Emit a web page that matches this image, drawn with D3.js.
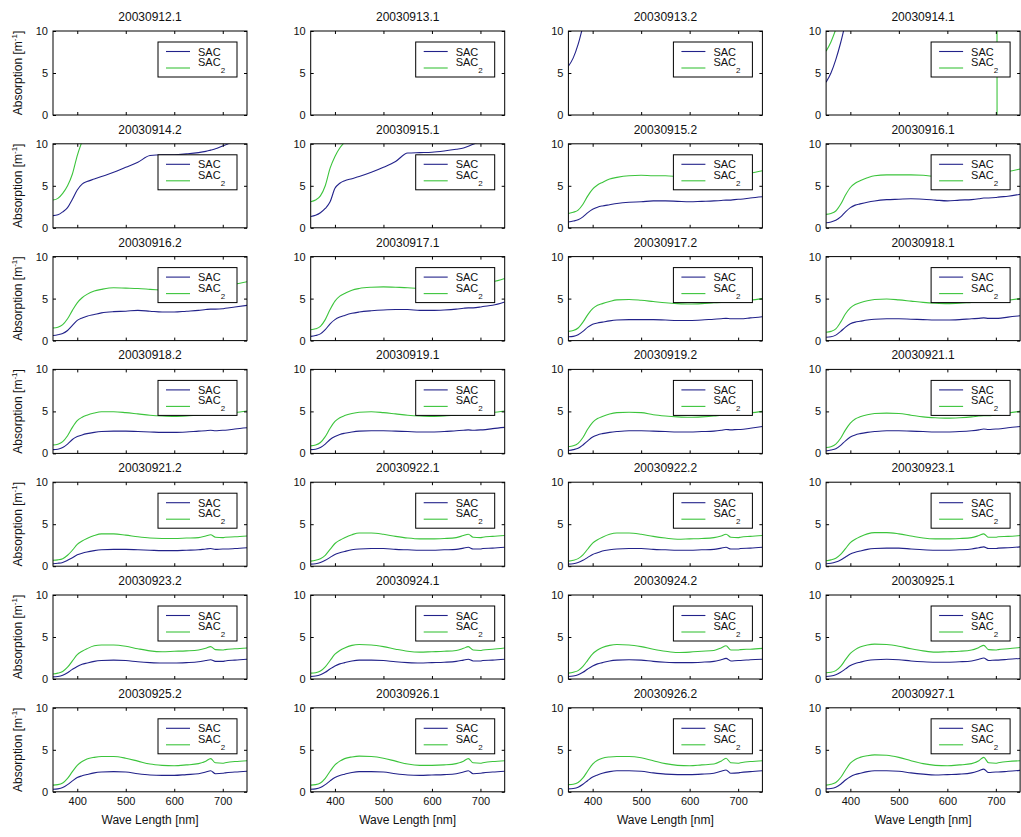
<!DOCTYPE html>
<html>
<head>
<meta charset="utf-8">
<title>SAC / SAC2</title>
<script src="https://cdn.jsdelivr.net/npm/d3@7"></script>
<style>
  body { margin: 0; background: #fff; }
  svg { display: block; font-family: "Liberation Sans", Arial, sans-serif; }
</style>
</head>
<body>
<svg id="chart" width="1021" height="837"></svg>
<script>
// panel titles, in reading order (4 per row)
var titles = [
  "20030912.1", "20030913.1", "20030913.2", "20030914.1",
  "20030914.2", "20030915.1", "20030915.2", "20030916.1",
  "20030916.2", "20030917.1", "20030917.2", "20030918.1",
  "20030918.2", "20030919.1", "20030919.2", "20030921.1",
  "20030921.2", "20030922.1", "20030922.2", "20030923.1",
  "20030923.2", "20030924.1", "20030924.2", "20030925.1",
  "20030925.2", "20030926.1", "20030926.2", "20030927.1"
];

// wavelengths (nm) where the curves were read
var wavelengths = [350, 360, 370, 380, 390, 400, 410, 420, 435, 450, 475, 500, 525,
                   550, 575, 600, 625, 650, 665, 675, 685, 700, 705, 725, 750];

var xTicks = [400, 500, 600, 700];
var yTicks = [0, 5, 10];

// SAC, one row per panel (null / missing = off the chart)
var sacSeries = [
  [],  // 20030912.1
  [],  // 20030913.1
  [5.8, 6.8, 8.4, 10.6],  // 20030913.2
  [3.9, 5.0, 6.6, 8.6, 11.0],  // 20030914.1
  [1.45, 1.55, 1.9, 2.4, 3.4, 4.5, 5.2, 5.5, 5.8, 6.1, 6.6, 7.2, 7.8, 8.6, 8.7, 8.7, 8.8, 8.95, 9.1, 9.25, 9.4, 9.75, 9.85, 10.4],  // 20030914.2
  [1.35, 1.5, 1.8, 2.3, 3.1, 4.7, 5.3, 5.6, 5.85, 6.1, 6.6, 7.2, 7.9, 8.9, 8.95, 9.0, 9.15, 9.35, 9.5, 9.7, 9.95, 10.3],  // 20030915.1
  [0.7, 0.8, 0.95, 1.3, 1.8, 2.2, 2.45, 2.6, 2.75, 2.9, 3.05, 3.1, 3.2, 3.2, 3.15, 3.1, 3.15, 3.2, 3.25, 3.3, 3.3, 3.4, 3.4, 3.55, 3.7],  // 20030915.2
  [0.6, 0.7, 0.9, 1.3, 1.9, 2.4, 2.7, 2.85, 3.05, 3.2, 3.35, 3.4, 3.45, 3.4, 3.3, 3.2, 3.3, 3.35, 3.45, 3.55, 3.55, 3.6, 3.65, 3.75, 4.0],  // 20030916.1
  [0.6, 0.7, 0.85, 1.2, 1.8, 2.4, 2.7, 2.9, 3.1, 3.3, 3.45, 3.5, 3.6, 3.5, 3.4, 3.4, 3.5, 3.6, 3.7, 3.75, 3.75, 3.8, 3.85, 4.0, 4.2],  // 20030916.2
  [0.5, 0.6, 0.8, 1.3, 2.0, 2.5, 2.8, 3.0, 3.25, 3.4, 3.55, 3.65, 3.7, 3.7, 3.6, 3.6, 3.65, 3.75, 3.85, 3.9, 3.9, 4.0, 4.05, 4.2, 4.6],  // 20030917.1
  [0.45, 0.5, 0.7, 1.1, 1.6, 1.95, 2.1, 2.2, 2.35, 2.45, 2.5, 2.5, 2.5, 2.45, 2.4, 2.4, 2.45, 2.55, 2.6, 2.65, 2.6, 2.6, 2.6, 2.7, 2.85],  // 20030917.2
  [0.4, 0.45, 0.65, 1.1, 1.6, 2.0, 2.2, 2.3, 2.45, 2.55, 2.6, 2.6, 2.55, 2.5, 2.45, 2.45, 2.5, 2.6, 2.65, 2.7, 2.65, 2.65, 2.65, 2.8, 2.95],  // 20030918.1
  [0.45, 0.5, 0.7, 1.1, 1.65, 2.0, 2.2, 2.35, 2.5, 2.6, 2.65, 2.65, 2.6, 2.55, 2.5, 2.5, 2.55, 2.65, 2.7, 2.75, 2.7, 2.75, 2.75, 2.9, 3.05],  // 20030918.2
  [0.45, 0.5, 0.7, 1.1, 1.65, 2.0, 2.25, 2.4, 2.55, 2.65, 2.7, 2.7, 2.65, 2.6, 2.55, 2.55, 2.6, 2.7, 2.75, 2.8, 2.75, 2.8, 2.8, 2.95, 3.1],  // 20030919.1
  [0.35, 0.45, 0.6, 1.0, 1.5, 1.95, 2.2, 2.35, 2.5, 2.6, 2.7, 2.7, 2.65, 2.6, 2.55, 2.55, 2.6, 2.65, 2.75, 2.85, 2.8, 2.85, 2.85, 3.0, 3.2],  // 20030919.2
  [0.3, 0.4, 0.55, 0.95, 1.5, 1.95, 2.2, 2.35, 2.5, 2.6, 2.7, 2.7, 2.65, 2.6, 2.55, 2.55, 2.6, 2.7, 2.8, 2.9, 2.85, 2.9, 2.9, 3.05, 3.2],  // 20030921.1
  [0.3, 0.35, 0.45, 0.7, 1.0, 1.35, 1.55, 1.7, 1.85, 1.95, 2.0, 2.0, 1.95, 1.9, 1.85, 1.85, 1.9, 1.95, 2.05, 2.1, 2.0, 2.05, 2.05, 2.1, 2.2],  // 20030921.2
  [0.25, 0.3, 0.45, 0.7, 1.05, 1.4, 1.6, 1.75, 1.95, 2.05, 2.1, 2.1, 2.0, 1.95, 1.9, 1.9, 1.95, 2.0, 2.15, 2.25, 2.05, 2.05, 2.1, 2.15, 2.25],  // 20030922.1
  [0.25, 0.3, 0.45, 0.7, 1.05, 1.4, 1.6, 1.8, 1.95, 2.05, 2.1, 2.1, 2.0, 1.95, 1.9, 1.9, 1.95, 2.0, 2.15, 2.25, 2.05, 2.05, 2.1, 2.15, 2.25],  // 20030922.2
  [0.3, 0.35, 0.5, 0.75, 1.1, 1.45, 1.65, 1.8, 2.0, 2.1, 2.15, 2.15, 2.05, 1.95, 1.9, 1.9, 1.95, 2.05, 2.2, 2.3, 2.1, 2.1, 2.15, 2.2, 2.3],  // 20030923.1
  [0.25, 0.3, 0.45, 0.75, 1.15, 1.5, 1.75, 1.9, 2.1, 2.2, 2.25, 2.2, 2.05, 1.95, 1.9, 1.9, 1.95, 2.05, 2.2, 2.3, 2.1, 2.1, 2.15, 2.25, 2.35],  // 20030923.2
  [0.3, 0.35, 0.5, 0.8, 1.2, 1.55, 1.8, 1.95, 2.15, 2.25, 2.25, 2.2, 2.05, 1.95, 1.9, 1.95, 2.0, 2.1, 2.25, 2.35, 2.15, 2.15, 2.2, 2.25, 2.35],  // 20030924.1
  [0.3, 0.35, 0.5, 0.8, 1.2, 1.55, 1.8, 1.95, 2.15, 2.25, 2.3, 2.25, 2.1, 2.0, 1.95, 1.95, 2.0, 2.1, 2.3, 2.45, 2.15, 2.2, 2.2, 2.3, 2.35],  // 20030924.2
  [0.3, 0.35, 0.5, 0.8, 1.2, 1.6, 1.85, 2.0, 2.2, 2.3, 2.35, 2.3, 2.15, 2.05, 2.0, 2.0, 2.05, 2.15, 2.35, 2.5, 2.2, 2.25, 2.25, 2.35, 2.45],  // 20030925.1
  [0.3, 0.35, 0.5, 0.85, 1.3, 1.7, 1.9, 2.05, 2.25, 2.35, 2.4, 2.35, 2.15, 2.0, 1.95, 1.95, 2.05, 2.15, 2.35, 2.5, 2.15, 2.2, 2.25, 2.35, 2.45],  // 20030925.2
  [0.3, 0.35, 0.5, 0.85, 1.3, 1.7, 1.95, 2.1, 2.3, 2.4, 2.4, 2.35, 2.15, 2.0, 1.95, 2.0, 2.05, 2.15, 2.35, 2.5, 2.15, 2.2, 2.25, 2.35, 2.45],  // 20030926.1
  [0.35, 0.4, 0.55, 0.9, 1.35, 1.75, 2.0, 2.2, 2.4, 2.5, 2.5, 2.45, 2.25, 2.1, 2.05, 2.05, 2.1, 2.2, 2.45, 2.6, 2.2, 2.25, 2.3, 2.4, 2.5],  // 20030926.2
  [0.35, 0.4, 0.55, 0.9, 1.4, 1.8, 2.05, 2.2, 2.4, 2.5, 2.5, 2.45, 2.25, 2.1, 2.0, 2.05, 2.1, 2.25, 2.5, 2.7, 2.3, 2.35, 2.35, 2.45, 2.55]   // 20030927.1
];

// SAC2, same layout
var sac2Series = [
  [],  // 20030912.1
  [],  // 20030913.1
  [],  // 20030913.2
  [7.6, 8.7, 10.2, null, null, null, null, null, null, null, null, null, null,
   null, null, null, null, null, null, null, null, 200, -200],  // 20030914.1
  [3.3, 3.5, 4.1, 5.0, 6.4, 8.6, 10.3],  // 20030914.2
  [3.1, 3.3, 3.8, 5.0, 7.1, 8.5, 9.5, 10.2],  // 20030915.1
  [1.7, 1.85, 2.1, 2.8, 3.8, 4.6, 5.1, 5.4, 5.8, 6.0, 6.2, 6.25, 6.2, 6.2, 6.1, 6.0, 5.9, 5.9, 5.9, 5.95, 6.0, 6.2, 6.2, 6.5, 6.8],  // 20030915.2
  [1.6, 1.7, 2.0, 2.8, 3.9, 4.8, 5.3, 5.6, 5.95, 6.2, 6.3, 6.3, 6.3, 6.25, 6.1, 6.0, 6.0, 6.1, 6.2, 6.3, 6.4, 6.5, 6.5, 6.7, 7.0],  // 20030916.1
  [1.5, 1.6, 1.9, 2.6, 3.6, 4.5, 5.1, 5.5, 5.9, 6.1, 6.3, 6.25, 6.2, 6.1, 6.0, 5.9, 6.0, 6.1, 6.2, 6.3, 6.4, 6.5, 6.55, 6.7, 7.0],  // 20030916.2
  [1.3, 1.4, 1.7, 2.5, 3.7, 4.7, 5.3, 5.6, 6.0, 6.2, 6.35, 6.4, 6.35, 6.3, 6.2, 6.1, 6.2, 6.3, 6.4, 6.5, 6.6, 6.8, 6.85, 7.0, 7.4],  // 20030917.1
  [1.1, 1.2, 1.5, 2.2, 3.1, 3.8, 4.2, 4.4, 4.65, 4.85, 4.9, 4.8, 4.65, 4.5, 4.4, 4.35, 4.4, 4.5, 4.55, 4.6, 4.55, 4.6, 4.6, 4.8, 5.0],  // 20030917.2
  [1.0, 1.1, 1.4, 2.2, 3.2, 3.9, 4.3, 4.5, 4.75, 4.9, 4.95, 4.85, 4.7, 4.55, 4.45, 4.4, 4.45, 4.55, 4.6, 4.65, 4.6, 4.65, 4.65, 4.8, 5.0],  // 20030918.1
  [1.0, 1.1, 1.4, 2.1, 3.1, 3.9, 4.3, 4.55, 4.8, 4.95, 4.95, 4.85, 4.7, 4.55, 4.45, 4.4, 4.45, 4.55, 4.6, 4.65, 4.6, 4.65, 4.65, 4.85, 5.05],  // 20030918.2
  [0.9, 1.0, 1.3, 2.0, 3.0, 3.8, 4.25, 4.5, 4.75, 4.9, 4.95, 4.85, 4.7, 4.55, 4.45, 4.4, 4.45, 4.55, 4.6, 4.65, 4.6, 4.65, 4.65, 4.85, 5.05],  // 20030919.1
  [0.8, 0.9, 1.2, 1.9, 2.9, 3.7, 4.15, 4.4, 4.7, 4.85, 4.9, 4.85, 4.6, 4.45, 4.35, 4.3, 4.35, 4.45, 4.55, 4.6, 4.55, 4.6, 4.6, 4.8, 5.0],  // 20030919.2
  [0.7, 0.8, 1.1, 1.8, 2.8, 3.6, 4.1, 4.35, 4.6, 4.75, 4.8, 4.75, 4.55, 4.35, 4.25, 4.2, 4.25, 4.35, 4.45, 4.5, 4.5, 4.55, 4.55, 4.8, 5.0],  // 20030921.1
  [0.7, 0.75, 0.9, 1.3, 1.9, 2.6, 3.0, 3.3, 3.65, 3.85, 3.85, 3.7, 3.5, 3.35, 3.3, 3.3, 3.35, 3.4, 3.6, 3.75, 3.45, 3.4, 3.45, 3.5, 3.6],  // 20030921.2
  [0.6, 0.7, 0.9, 1.3, 2.0, 2.7, 3.1, 3.4, 3.75, 3.95, 3.95, 3.8, 3.55, 3.35, 3.25, 3.25, 3.3, 3.4, 3.65, 3.8, 3.45, 3.4, 3.45, 3.55, 3.65],  // 20030922.1
  [0.6, 0.7, 0.9, 1.35, 2.05, 2.75, 3.15, 3.45, 3.8, 3.95, 3.95, 3.8, 3.55, 3.35, 3.2, 3.25, 3.3, 3.4, 3.6, 3.8, 3.45, 3.4, 3.45, 3.55, 3.65],  // 20030922.2
  [0.65, 0.75, 0.95, 1.4, 2.1, 2.8, 3.2, 3.5, 3.85, 4.0, 4.0, 3.85, 3.6, 3.35, 3.25, 3.25, 3.3, 3.4, 3.65, 3.85, 3.45, 3.45, 3.5, 3.55, 3.65],  // 20030923.1
  [0.6, 0.7, 0.9, 1.4, 2.15, 2.9, 3.3, 3.6, 3.95, 4.05, 4.05, 3.9, 3.6, 3.35, 3.25, 3.3, 3.35, 3.45, 3.65, 3.85, 3.5, 3.45, 3.5, 3.6, 3.7],  // 20030923.2
  [0.7, 0.75, 0.95, 1.45, 2.2, 2.95, 3.4, 3.7, 4.0, 4.1, 4.05, 3.85, 3.55, 3.3, 3.2, 3.25, 3.3, 3.4, 3.65, 3.85, 3.45, 3.4, 3.45, 3.55, 3.7],  // 20030924.1
  [0.7, 0.8, 1.0, 1.5, 2.25, 3.0, 3.45, 3.75, 4.0, 4.1, 4.05, 3.85, 3.55, 3.3, 3.15, 3.2, 3.3, 3.4, 3.7, 3.95, 3.45, 3.45, 3.5, 3.55, 3.65],  // 20030924.2
  [0.75, 0.8, 1.0, 1.5, 2.3, 3.05, 3.5, 3.8, 4.05, 4.15, 4.1, 3.9, 3.6, 3.35, 3.2, 3.25, 3.3, 3.45, 3.75, 4.0, 3.5, 3.45, 3.5, 3.6, 3.75],  // 20030925.1
  [0.8, 0.85, 1.05, 1.6, 2.4, 3.15, 3.6, 3.9, 4.1, 4.2, 4.2, 4.0, 3.65, 3.3, 3.15, 3.1, 3.2, 3.35, 3.65, 3.95, 3.45, 3.4, 3.45, 3.6, 3.7],  // 20030925.2
  [0.8, 0.85, 1.05, 1.6, 2.45, 3.2, 3.65, 3.95, 4.15, 4.25, 4.2, 4.0, 3.65, 3.3, 3.15, 3.15, 3.2, 3.35, 3.65, 3.95, 3.45, 3.4, 3.45, 3.6, 3.7],  // 20030926.1
  [0.85, 0.9, 1.1, 1.65, 2.5, 3.3, 3.75, 4.0, 4.15, 4.2, 4.2, 4.05, 3.7, 3.35, 3.15, 3.1, 3.2, 3.3, 3.65, 4.0, 3.45, 3.4, 3.45, 3.6, 3.7],  // 20030926.2
  [0.8, 0.9, 1.1, 1.7, 2.6, 3.4, 3.85, 4.1, 4.3, 4.4, 4.35, 4.1, 3.7, 3.35, 3.15, 3.1, 3.2, 3.35, 3.7, 4.1, 3.45, 3.4, 3.45, 3.6, 3.7]   // 20030927.1
];

var sacColor = "#22228a", sac2Color = "#3cc43c";

var svg = d3.select("#chart");
var nCols = 4, nRows = 7;
var left0 = 53, colStep = 257.7, plotW = 194;
var top0 = 31, rowStep = 112.8, plotH = 84;

var x = d3.scaleLinear().domain([350, 750]).range([0, plotW]);
var y = d3.scaleLinear().domain([0, 10]).range([plotH, 0]);

svg.append("rect").attr("width", 1021).attr("height", 837).attr("fill", "#fff");

svg.append("defs").append("clipPath").attr("id", "plotClip")
  .append("rect").attr("width", plotW).attr("height", plotH);

var line = d3.line()
  .defined(function (d) { return d.v != null; })
  .x(function (d) { return x(d.wl); })
  .y(function (d) { return y(d.v); })
  .curve(d3.curveMonotoneX);

function toPoints(values) {
  return wavelengths.map(function (wl, i) {
    return { wl: wl, v: values[i] == null ? null : values[i] };
  });
}

titles.forEach(function (title, i) {
  var col = i % nCols, row = Math.floor(i / nCols);
  var g = svg.append("g")
    .attr("transform", "translate(" + (left0 + col * colStep) + "," + (top0 + row * rowStep) + ")");

  // data
  var lines = g.append("g").attr("clip-path", "url(#plotClip)");
  lines.append("path").datum(toPoints(sacSeries[i]))
    .attr("d", line).attr("fill", "none").attr("stroke", sacColor).attr("stroke-width", 1.1);
  lines.append("path").datum(toPoints(sac2Series[i]))
    .attr("d", line).attr("fill", "none").attr("stroke", sac2Color).attr("stroke-width", 1.1);

  // legend (opaque, covers the lines)
  var lg = g.append("g").attr("transform", "translate(" + (plotW - 10 - 79) + ",11)");
  lg.append("rect").attr("width", 79).attr("height", 35)
    .attr("fill", "#fff").attr("stroke", "#000").attr("stroke-width", 1);
  lg.append("line").attr("x1", 8).attr("x2", 32).attr("y1", 9.5).attr("y2", 9.5)
    .attr("stroke", sacColor).attr("stroke-width", 1.1);
  lg.append("line").attr("x1", 8).attr("x2", 32).attr("y1", 26).attr("y2", 26)
    .attr("stroke", sac2Color).attr("stroke-width", 1.1);
  lg.append("text").attr("x", 40).attr("y", 13.5).attr("font-size", 11).attr("fill", "#111").text("SAC");
  var t2 = lg.append("text").attr("x", 40).attr("y", 24).attr("font-size", 11).attr("fill", "#111");
  t2.append("tspan").text("SAC");
  t2.append("tspan").attr("dy", 7).attr("font-size", 8).text("2");

  // axes: ticks inward on all four sides
  g.append("g").attr("transform", "translate(0," + plotH + ")")
    .call(d3.axisBottom(x).tickValues(xTicks).tickSize(-3).tickPadding(5)
      .tickFormat(row === nRows - 1 ? d3.format("d") : function () { return ""; }));
  g.append("g")
    .call(d3.axisTop(x).tickValues(xTicks).tickSize(-3).tickFormat(function () { return ""; }));
  g.append("g")
    .call(d3.axisLeft(y).tickValues(yTicks).tickSize(-3).tickPadding(5).tickFormat(d3.format("d")));
  g.append("g").attr("transform", "translate(" + plotW + ",0)")
    .call(d3.axisRight(y).tickValues(yTicks).tickSize(-3).tickFormat(function () { return ""; }));

  g.selectAll(".domain").remove();
  g.selectAll(".tick line").attr("stroke", "#000");
  g.selectAll(".tick text").attr("font-size", 11).attr("fill", "#111")
    .attr("font-family", "'Liberation Sans', Arial, sans-serif");

  g.append("rect").attr("width", plotW).attr("height", plotH)
    .attr("fill", "none").attr("stroke", "#000").attr("stroke-width", 1);

  // title
  g.append("text").attr("x", plotW / 2).attr("y", -10).attr("text-anchor", "middle")
    .attr("font-size", 12).attr("fill", "#111").text(title);

  if (col === 0) {
    var yl = g.append("text")
      .attr("transform", "translate(-31," + (plotH / 2) + ") rotate(-90)")
      .attr("text-anchor", "middle").attr("font-size", 12).attr("fill", "#111");
    yl.append("tspan").text("Absorption [m");
    yl.append("tspan").attr("dy", -5).attr("font-size", 8).text("-1");
    yl.append("tspan").attr("dy", 5).text("]");
  }
  if (row === nRows - 1) {
    g.append("text").attr("x", plotW / 2).attr("y", plotH + 32).attr("text-anchor", "middle")
      .attr("font-size", 12).attr("fill", "#111").text("Wave Length [nm]");
  }
});
</script>
</body>
</html>
